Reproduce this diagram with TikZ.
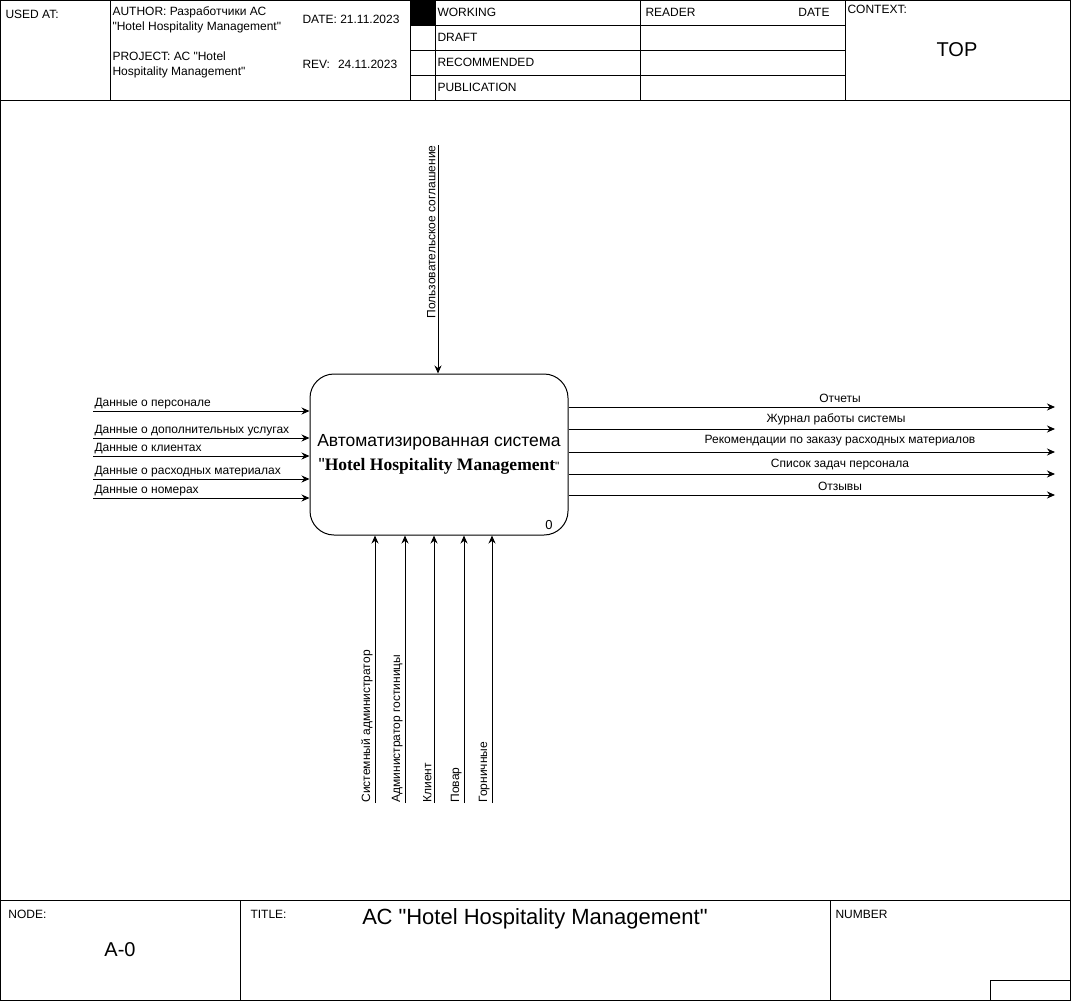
\documentclass[tikz,border=0pt]{standalone}
\usepackage{fontspec}
\setmainfont{Liberation Sans}[Ligatures=TeXOff]
\newfontfamily\serifbf{Liberation Serif}[Ligatures=TeXOff]
\usetikzlibrary{arrows.meta, calc}

\begin{document}
\begin{tikzpicture}[x=1pt, y=-1pt, line width=1pt,
  >={Stealth[length=8pt, width=7pt]},
  small/.style={font=\fontsize{12}{15}\selectfont, inner sep=0pt},
  hdr/.style={small, anchor=west, align=left},
  inlbl/.style={small, anchor=south west},
  outlbl/.style={small, anchor=south},
  mechlbl/.style={small, rotate=90, anchor=south west}]

\useasboundingbox (0,0) rectangle (1071,1001);

% Frame
\draw (0.5,0.5) rectangle (1070.5,1000.5);
\draw (0,100) -- (1071,100);
\draw (0,900) -- (1071,900);

% Header grid
\draw (110,0) -- (110,100);
\draw (410,0) -- (410,100);
\draw (435,0) -- (435,100);
\draw (640,0) -- (640,100);
\draw (845,0) -- (845,100);
\draw (410,25) -- (845,25);
\draw (410,50) -- (845,50);
\draw (410,75) -- (845,75);
\fill (410,0) rectangle (435,25);

% Header texts
\node[hdr] (usedat) at (5,14) {USED AT:};
\node[hdr] (author) at (112,19.5) {AUTHOR: Разработчики АС\\"Hotel Hospitality Management"};
\node[hdr] (project) at (112,64.5) {PROJECT: АС "Hotel\\Hospitality Management"};
\node[hdr] (date) at (302,19) {DATE: 21.11.2023};
\node[hdr] (rev) at (302,64) {REV:\hspace{8pt}24.11.2023};
\node[hdr] (working) at (437,12.5) {WORKING};
\node[hdr] (draft) at (437,37.5) {DRAFT};
\node[hdr] (recommended) at (437,62.5) {RECOMMENDED};
\node[hdr] (publication) at (437,87.5) {PUBLICATION};
\node[hdr] (reader) at (645,12.5) {READER};
\node[small, anchor=east] (rdate) at (830,12.5) {DATE};
\node[hdr] (context) at (847,9) {CONTEXT:};
\node[font=\fontsize{20}{24}\selectfont] (top) at (957,50) {TOP};

% Footer
\draw (240,900) -- (240,1001);
\draw (830,900) -- (830,1001);
\draw (990,1001) -- (990,980) -- (1071,980);
\node[hdr] (nodelbl) at (8,914) {NODE:};
\node[font=\fontsize{20}{24}\selectfont] (nodeno) at (120,950) {A-0};
\node[hdr] (titlelbl) at (250,914) {TITLE:};
\node[font=\fontsize{22}{26}\selectfont] (title) at (535,919) {АС "Hotel Hospitality Management"};
\node[hdr] (number) at (835,914) {NUMBER};

% Function block
\node[draw, rounded corners=24pt, minimum width=258pt, minimum height=161pt,
      align=center, inner sep=1pt, font=\fontsize{17.5}{24}\selectfont]
  (sys) at (439,454.5)
  {Автоматизированная система\\
   "{\serifbf\bfseries Hotel Hospitality Management}{\fontsize{12}{14}\selectfont"}};
\node[font=\fontsize{13}{15}\selectfont, inner sep=0pt, anchor=south east] (sysno) at (553,530) {0};

% Control
\coordinate (ctl) at (438,145);
\draw[->] (ctl) -- (ctl |- sys.north);
\node[small, rotate=90, anchor=south east] (ctllbl) at (436,145)
  {Пользовательское соглашение};

% Inputs
\coordinate (in1) at (93,411);
\coordinate (in2) at (93,438);
\coordinate (in3) at (93,456);
\coordinate (in4) at (93,479);
\coordinate (in5) at (93,498);
\draw[->] (in1) -- (in1 -| sys.west);
\draw[->] (in2) -- (in2 -| sys.west);
\draw[->] (in3) -- (in3 -| sys.west);
\draw[->] (in4) -- (in4 -| sys.west);
\draw[->] (in5) -- (in5 -| sys.west);
\node[inlbl] (in1lbl) at ($(in1)+(1,-1.5)$) {Данные о персонале};
\node[inlbl] (in2lbl) at ($(in2)+(1,-1.5)$) {Данные о дополнительных услугах};
\node[inlbl] (in3lbl) at ($(in3)+(1,-1.5)$) {Данные о клиентах};
\node[inlbl] (in4lbl) at ($(in4)+(1,-1.5)$) {Данные о расходных материалах};
\node[inlbl] (in5lbl) at ($(in5)+(1,-1.5)$) {Данные о номерах};

% Outputs
\coordinate (out1) at (1055,407);
\coordinate (out2) at (1055,429);
\coordinate (out3) at (1055,452);
\coordinate (out4) at (1055,474);
\coordinate (out5) at (1055,495);
\draw[->] (out1 -| sys.east) -- (out1);
\draw[->] (out2 -| sys.east) -- (out2);
\draw[->] (out3 -| sys.east) -- (out3);
\draw[->] (out4 -| sys.east) -- (out4);
\draw[->] (out5 -| sys.east) -- (out5);
\node[outlbl] (out1lbl) at (840,403) {Отчеты};
\node[outlbl] (out2lbl) at (836,425) {Журнал работы системы};
\node[outlbl] (out3lbl) at (840,446) {Рекомендации по заказу расходных материалов};
\node[outlbl] (out4lbl) at (840,470) {Список задач персонала};
\node[outlbl] (out5lbl) at (840,491) {Отзывы};

% Mechanisms
\coordinate (m1) at (375,803);
\coordinate (m2) at (405,803);
\coordinate (m3) at (434,803);
\coordinate (m4) at (464,803);
\coordinate (m5) at (492,803);
\draw[->] (m1) -- (m1 |- sys.south);
\draw[->] (m2) -- (m2 |- sys.south);
\draw[->] (m3) -- (m3 |- sys.south);
\draw[->] (m4) -- (m4 |- sys.south);
\draw[->] (m5) -- (m5 |- sys.south);
\node[mechlbl] (m1lbl) at ($(m1)+(-2,0)$) {Системный администратор};
\node[mechlbl] (m2lbl) at ($(m2)+(-2,0)$) {Администратор гостиницы};
\node[mechlbl] (m3lbl) at ($(m3)+(-2,0)$) {Клиент};
\node[mechlbl] (m4lbl) at ($(m4)+(-2,0)$) {Повар};
\node[mechlbl] (m5lbl) at ($(m5)+(-2,0)$) {Горничные};

\end{tikzpicture}
\end{document}
